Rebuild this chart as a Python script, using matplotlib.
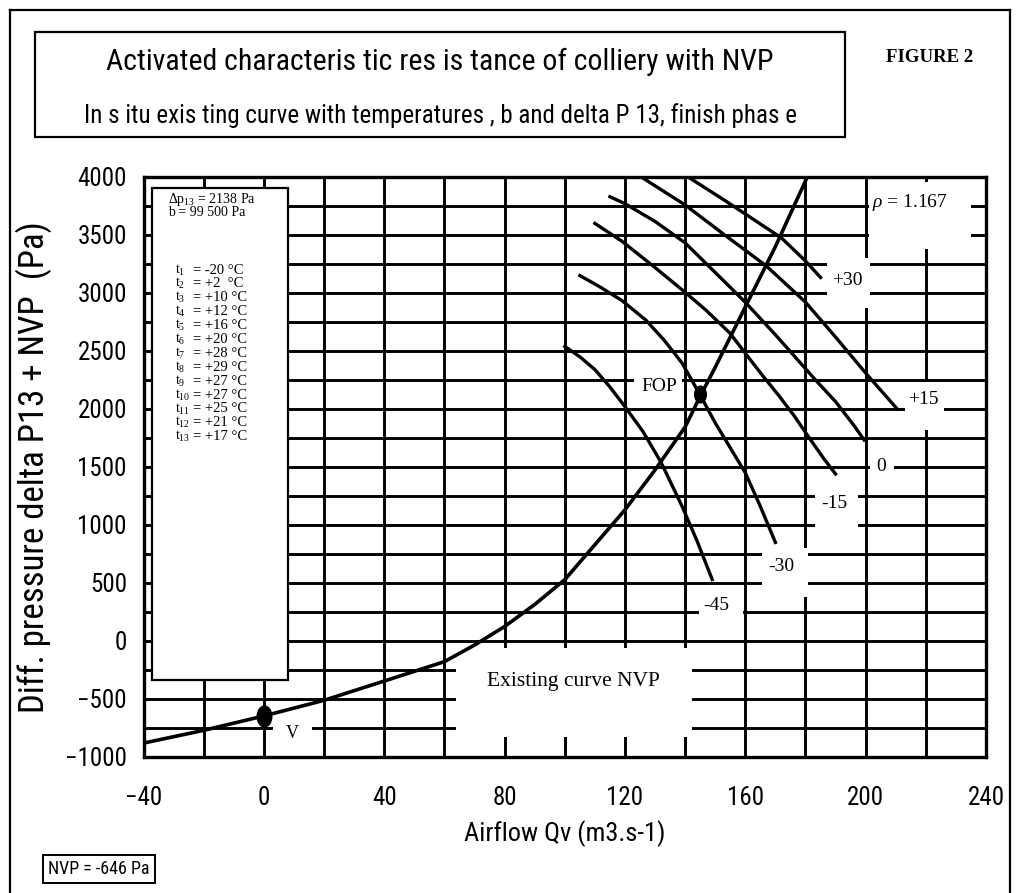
import matplotlib
matplotlib.use("Agg")
import matplotlib.pyplot as plt
from matplotlib import font_manager as fm
from matplotlib.patches import Rectangle
from matplotlib.lines import Line2D
from matplotlib.path import Path
from matplotlib.transforms import Affine2D

# existing curve of the colliery (with NVP)
nvp_q = [-40, -20, 0, 20, 40, 60, 70, 80, 90, 100, 110, 120, 130, 140, 145, 150, 160, 170, 180.6]
nvp_p = [-880, -770, -646, -511, -345, -178, -35, 125, 315, 529, 830, 1131, 1475, 1845, 2110, 2360, 2880, 3400, 4000]

# fan characteristics, one per blade angle
m45_q = [100, 105, 110, 115, 120, 126, 132, 139, 144, 149]
m45_p = [2540, 2450, 2340, 2190, 2020, 1805, 1540, 1160, 860, 530]
m30_q = [105, 111, 119, 127, 133, 139, 145, 150, 155, 160, 165, 170]
m30_p = [3150, 3063, 2935, 2765, 2594, 2395, 2120, 1880, 1665, 1450, 1160, 850]
m15_q = [110, 119, 130, 140, 147, 155, 160, 166, 171, 176, 181, 186, 190]
m15_p = [3600, 3446, 3219, 3006, 2850, 2651, 2480, 2280, 2120, 1950, 1760, 1575, 1440]
z0_q = [115, 120, 130, 140, 153, 160, 170, 183, 190, 196, 199.5]
z0_p = [3830, 3770, 3617, 3432, 3100, 2920, 2640, 2260, 2063, 1862, 1733]
p15_q = [126, 140, 153, 167, 180, 190, 200, 210.5]
p15_p = [3990, 3759, 3503, 3233, 2921, 2620, 2310, 2000]
p30_q = [141, 153, 172, 180, 185]
p30_p = [4000, 3801, 3475, 3276, 3134]

fan_names = ['-45', '-30', '-15', '0', '+15', '+30']

fop_q, fop_p = 145, 2130
v_q, v_p = 0, -646

temps = ['-20', '+2', '+10', '+12', '+16', '+20', '+28', '+29', '+27', '+27', '+25', '+21', '+17']

# pick a narrow sans face if one is installed
names = {f.name for f in fm.fontManager.ttflist}
stretch = 'normal'
if 'Liberation Sans Narrow' in names:
    cond = 'Liberation Sans Narrow'
elif 'Roboto Condensed' in names:
    cond = 'Roboto Condensed'
elif any(f.name == 'DejaVu Sans' and 'condensed' in str(f.stretch) for f in fm.fontManager.ttflist):
    cond, stretch = 'DejaVu Sans', 'condensed'
else:
    cond = 'DejaVu Sans'

plt.rcParams['font.family'] = [cond, 'DejaVu Sans']
plt.rcParams['font.stretch'] = stretch
plt.rcParams['mathtext.fontset'] = 'custom'
plt.rcParams['mathtext.rm'] = 'Liberation Serif'
plt.rcParams['mathtext.it'] = 'Liberation Serif:italic'
SERIF = 'Liberation Serif'

W, H = 1016, 893
fig = plt.figure(figsize=(W / 100, H / 100), dpi=100)


def fx(px):
    return px / W


def fy(py):
    return 1 - py / H


ax = fig.add_axes([fx(143.6), fy(757), (986 - 143.6) / W, (757 - 177) / H])
ax.set_xlim(-40, 240)
ax.set_ylim(-1000, 4000)
ax.set_xticks(range(-40, 241, 40))
ax.set_xticks(range(-40, 241, 20), minor=True)
ax.set_yticks(range(-1000, 4001, 500))
ax.set_yticks(range(-1000, 4001, 250), minor=True)
ax.grid(True, which='both', color='black', lw=2.1)
ax.set_axisbelow(True)
ax.tick_params(which='both', length=0, labelsize=18)
ax.tick_params(axis='x', pad=21)
ax.tick_params(axis='y', pad=12)
for s in ax.spines.values():
    s.set_linewidth(2.4)

ax.set_xlabel('Airflow Qv (m3.s-1)', fontsize=19, labelpad=7)
ax.set_ylabel('Diff. pressure delta P13 + NVP  (Pa)', fontsize=25, labelpad=9)

# white patches that break the grid behind labels
blanks = [
    (201, 3380, 235, 3960),
    (187, 2870, 201.5, 3300),
    (213, 1820, 226, 2230),
    (201.5, 1380, 209.5, 1620),
    (183.3, 930, 197.5, 1320),
    (165.6, 380, 181, 800),
    (144.5, 170, 159.3, 440),
    (123, 2080, 139, 2330),
    (3, -860, 16, -700),
    (64, -828, 142.2, -60),
]
for x0, y0, x1, y1 in blanks:
    ax.add_patch(Rectangle((x0, y0), x1 - x0, y1 - y0, facecolor='white', edgecolor='none', zorder=1))

# legend box with conditions
ax.add_patch(Rectangle((-37.2, -336), 45.2, 3905 + 336, facecolor='white', edgecolor='black', lw=1.6, zorder=1.2))

ax.plot(nvp_q, nvp_p, color='black', lw=2.6, zorder=3)
fan_q = [m45_q, m30_q, m15_q, z0_q, p15_q, p30_q]
fan_p = [m45_p, m30_p, m15_p, z0_p, p15_p, p30_p]
for q, p in zip(fan_q, fan_p):
    ax.plot(q, p, color='black', lw=2.4, zorder=3)

oval = Path.unit_circle().transformed(Affine2D().scale(0.7, 1.0))
ax.plot([v_q], [v_p], marker=oval, ms=15, color='black', zorder=4)
ax.plot([fop_q], [fop_p], marker=oval, ms=12, color='black', zorder=4)

label_pos = [(150.4, 310), (171.8, 640), (189.7, 1187), (205.3, 1503), (219, 2078), (194, 3112)]
for name, (lq, lp) in zip(fan_names, label_pos):
    ax.text(lq, lp, name, ha='center', va='center', family=SERIF, fontsize=14, zorder=5)

ax.text(202, 3776, r'$\rho$ = 1.167', ha='left', va='center', family=SERIF, fontsize=14, zorder=5)
ax.text(131.5, 2190, 'FOP', ha='center', va='center', family=SERIF, fontsize=14, zorder=5)
ax.text(9.5, -796, 'V', ha='center', va='center', family=SERIF, fontsize=13, zorder=5)
ax.text(103, -353, 'Existing curve NVP', ha='center', va='center', family=SERIF, fontsize=15.5, zorder=5)

# condition text inside the legend box
fig.text(fx(168), fy(200), r'$\Delta\mathrm{p}_{13}$ = 2138 Pa', family=SERIF, fontsize=10, va='center')
fig.text(fx(168), fy(213), 'b = 99 500 Pa', family=SERIF, fontsize=10, va='center')
for i, t in enumerate(temps):
    y = 270 + i * 13.9
    fig.text(fx(175), fy(y), r'$\mathrm{t}_{%d}$' % (i + 1), family=SERIF, fontsize=10, va='center')
    fig.text(fx(193), fy(y), '= ' + t.ljust(3) + ' \u00b0C', family=SERIF, fontsize=10.5, va='center')

# title box
fig.patches.append(Rectangle((fx(35), fy(137)), fx(845) - fx(35), fy(32) - fy(137),
                             transform=fig.transFigure, facecolor='none', edgecolor='black', lw=1.6))
fig.text(fx(440), fy(62), 'Activated characteris tic res is tance of colliery with NVP',
         ha='center', va='center', fontsize=21.5)
fig.text(fx(440), fy(116), 'In s itu exis ting curve with temperatures , b and delta P 13, finish phas e',
         ha='center', va='center', fontsize=18)
fig.text(fx(930), fy(57), 'FIGURE 2', ha='center', va='center', family=SERIF, fontweight='bold', fontsize=13.5)

# NVP box bottom left
fig.text(fx(99), fy(869), 'NVP = -646 Pa', ha='center', va='center', fontsize=13,
         bbox=dict(boxstyle='square,pad=0.3', facecolor='white', edgecolor='black', lw=1.4))

# outer frame
for xs, ys in [([10, 10], [893, 10]), ([10, 1010], [10, 10]), ([1010, 1010], [10, 893])]:
    fig.add_artist(Line2D([fx(x) for x in xs], [fy(y) for y in ys], transform=fig.transFigure,
                          color='black', lw=1.6))

fig.savefig('out.png', dpi=100)
